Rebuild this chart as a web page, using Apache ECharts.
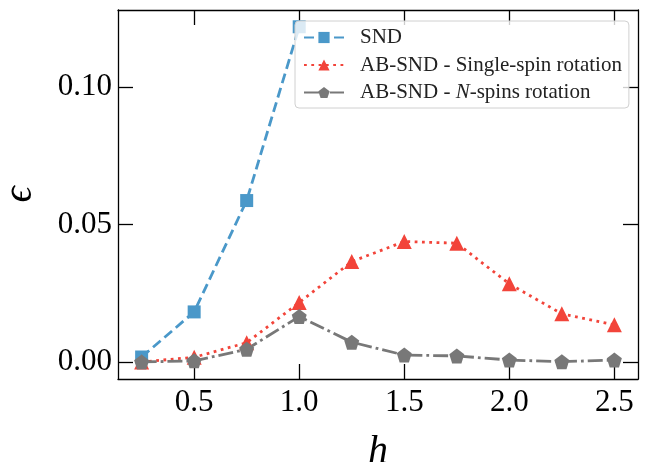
<!DOCTYPE html>
<html>
<head>
<meta charset="utf-8">
<script src="https://cdn.jsdelivr.net/npm/echarts@6/dist/echarts.min.js"></script>
<style>
html,body{margin:0;padding:0;background:#fff;}
#c{width:647px;height:462px;}
</style>
</head>
<body>
<div id="c"></div>
<script>
// ---- data ----
const hSND = [0.25, 0.5, 0.75, 1.0];
const epsSND = [0.0018, 0.0182, 0.0587, 0.1219];
const hAB = [0.25, 0.5, 0.75, 1.0, 1.25, 1.5, 1.75, 2.0, 2.25, 2.5];
const epsSingle = [0.0000, 0.0017, 0.0070, 0.0216, 0.0365, 0.0438, 0.0432, 0.0284, 0.0175, 0.0135];
const epsNspins = [0.0000, 0.0004, 0.0046, 0.0165, 0.0072, 0.0025, 0.0022, 0.0007, 0.0001, 0.0007];
const xTicks = [0.5, 1.0, 1.5, 2.0, 2.5];
const yTicks = [0.00, 0.05, 0.10];
const seriesNames = ['SND', 'AB-SND - Single-spin rotation', 'AB-SND - N-spins rotation'];

const zip = (xs, ys) => xs.map((x, i) => [x, ys[i]]);
const FONT = 'Liberation Serif';
const pentagon = 'path://M0,-10 L9.511,-3.09 L5.878,8.09 L-5.878,8.09 L-9.511,-3.09 Z';

const xBase = (pos, showLabel) => ({
  type: 'value', position: pos, min: 0.1375, max: 2.6125,
  axisLine: { show: true, onZero: false, lineStyle: { color: '#000', width: 1.3 } },
  axisTick: { show: true, inside: true, length: 15, customValues: xTicks, lineStyle: { color: '#000', width: 1.3 } },
  axisLabel: { show: showLabel, customValues: xTicks, margin: 8, color: '#000', fontFamily: FONT, fontSize: 31,
    formatter: v => v.toFixed(1) },
  splitLine: { show: false }
});
const yBase = (pos, showLabel) => ({
  type: 'value', position: pos, min: -0.0062, max: 0.128,
  axisLine: { show: true, onZero: false, lineStyle: { color: '#000', width: 1.3 } },
  axisTick: { show: true, inside: true, length: 15, customValues: yTicks, lineStyle: { color: '#000', width: 1.3 } },
  axisLabel: { show: showLabel, customValues: yTicks, margin: 6, color: '#000', fontFamily: FONT, fontSize: 31,
    formatter: v => v.toFixed(2) },
  splitLine: { show: false }
});

const xBottom = Object.assign(xBase('bottom', true), {
  name: 'h', nameLocation: 'middle', nameGap: 53,
  nameTextStyle: { fontFamily: FONT, fontStyle: 'italic', fontSize: 40, color: '#000' }
});
const yLeft = Object.assign(yBase('left', true), {
  name: 'ϵ', nameLocation: 'middle', nameGap: 78, nameRotate: 90,
  nameTextStyle: { fontFamily: FONT, fontStyle: 'italic', fontSize: 40, color: '#000' }
});

const chart = echarts.init(document.getElementById('c'), null, { renderer: 'canvas' });
chart.setOption({
  backgroundColor: '#fff',
  animation: false,
  grid: { left: 118, right: 9, top: 10, bottom: 83, containLabel: false, outerBoundsMode: 'none' },
  xAxis: [xBottom, xBase('top', false)],
  yAxis: [yLeft, yBase('right', false)],
  legend: {
    left: 295, top: 21, orient: 'vertical',
    padding: [6, 7, 5, 8],
    itemWidth: 40, itemHeight: 14, itemGap: 6.5,
    backgroundColor: 'rgba(255,255,255,0.8)',
    borderColor: '#d0d0d0', borderWidth: 1, borderRadius: 4,
    data: seriesNames,
    textStyle: {
      fontFamily: FONT, fontSize: 21, color: '#222', padding: [0, 0, 0, 11],
      rich: { i: { fontFamily: FONT, fontSize: 21, fontStyle: 'italic', color: '#222' } }
    },
    formatter: name => name === seriesNames[2] ? 'AB-SND - {i|N}-spins rotation' : name
  },
  series: [
    {
      name: seriesNames[0], type: 'line', data: zip(hSND, epsSND),
      xAxisIndex: 0, yAxisIndex: 0,
      symbol: 'rect', symbolSize: 13,
      lineStyle: { color: '#4a98c9', width: 2.8, type: [10, 5] },
      itemStyle: { color: '#4a98c9' }
    },
    {
      name: seriesNames[1], type: 'line', data: zip(hAB, epsSingle),
      xAxisIndex: 0, yAxisIndex: 0,
      symbol: 'triangle', symbolSize: 15,
      lineStyle: { color: '#f2443a', width: 2.8, type: [2.8, 4.5] },
      itemStyle: { color: '#f2443a' }
    },
    {
      name: seriesNames[2], type: 'line', data: zip(hAB, epsNspins),
      xAxisIndex: 0, yAxisIndex: 0,
      symbol: pentagon, symbolSize: 15,
      lineStyle: { color: '#787878', width: 2.8, type: [15, 4, 2.8, 4] },
      itemStyle: { color: '#787878' }
    }
  ]
});
</script>
</body>
</html>
